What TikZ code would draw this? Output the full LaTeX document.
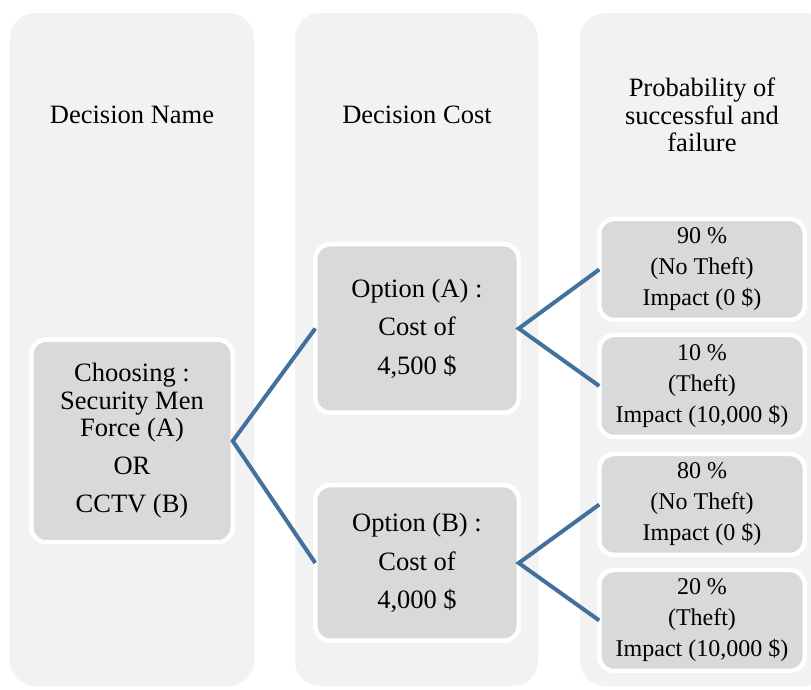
\documentclass[tikz,border=0pt]{standalone}
\usepackage{fontspec}
\setmainfont{Liberation Serif}
\usepackage{tikz}
\usetikzlibrary{calc}
\definecolor{colbg}{HTML}{F2F2F2}
\definecolor{boxbg}{HTML}{D9D9D9}
\definecolor{linkblue}{HTML}{41719C}
\tikzset{col/.style={fill=colbg,rounded corners=12.5pt},
hd/.style={align=center,font=\fontsize{13.25}{13.75}\selectfont},
dn/.style={draw=white,fill=boxbg,line width=2.25pt,rounded corners=7.5pt,
align=center,inner sep=0pt,outer sep=0pt,minimum width=101.75pt,
font=\fontsize{13.25}{13.75}\selectfont},
pn/.style={draw=white,fill=boxbg,line width=2.25pt,rounded corners=7.5pt,
align=center,inner sep=0pt,outer sep=0pt,minimum width=102.75pt,
minimum height=50.5pt,font=\fontsize{12}{15.5}\selectfont},
link/.style={draw=linkblue,line width=2pt}}

\begin{document}
\begin{tikzpicture}[x=0.5pt,y=-0.5pt]
		\useasboundingbox (0,0) rectangle (811,690);
		\clip (0,0) rectangle (811,690);
		% columns
		\fill[col] (10,13) rectangle (254,686);
		\fill[col] (295,13) rectangle (538,686);
		\fill[col] (580,13) rectangle (830,686);
		\node[hd] (hname) at (132,115) {Decision Name};
		\node[hd] (hcost) at (417,115) {Decision Cost};
		\node[hd] (hprob) at (702,115) {Probability of\\successful and\\failure};
		% decision tree
		\node[dn,minimum width=100.75pt,minimum height=101.25pt] (choose) at (132,441)
			{Choosing :\\Security Men\\Force (A)\\[5.25pt]OR\\[5.25pt]CCTV (B)};
		\node[dn,minimum height=84.25pt] (optA) at (417,328.5)
			{Option (A) :\\[5.5pt]Cost of\\[5.5pt]4,500 \$};
		\node[dn,minimum height=77.75pt] (optB) at (417,563)
			{Option (B) :\\[5.5pt]Cost of\\[5.5pt]4,000 \$};
		\node[pn] (pA1) at (702,269.5) {90 \%\\(No Theft)\\Impact (0 \$)};
		\node[pn,minimum height=51pt] (pA2) at (702,386) {10 \%\\(Theft)\\Impact (10,000 \$)};
		\node[pn] (pB1) at (702,504.5) {80 \%\\(No Theft)\\Impact (0 \$)};
		\node[pn] (pB2) at (702,620.5) {20 \%\\(Theft)\\Impact (10,000 \$)};
		\draw[link] (optA.west) -- (choose.east) -- (optB.west);
		\draw[link] (pA1.west) -- (optA.east) -- (pA2.west);
		\draw[link] (pB1.west) -- (optB.east) -- (pB2.west);
	\end{tikzpicture}
\end{document}
